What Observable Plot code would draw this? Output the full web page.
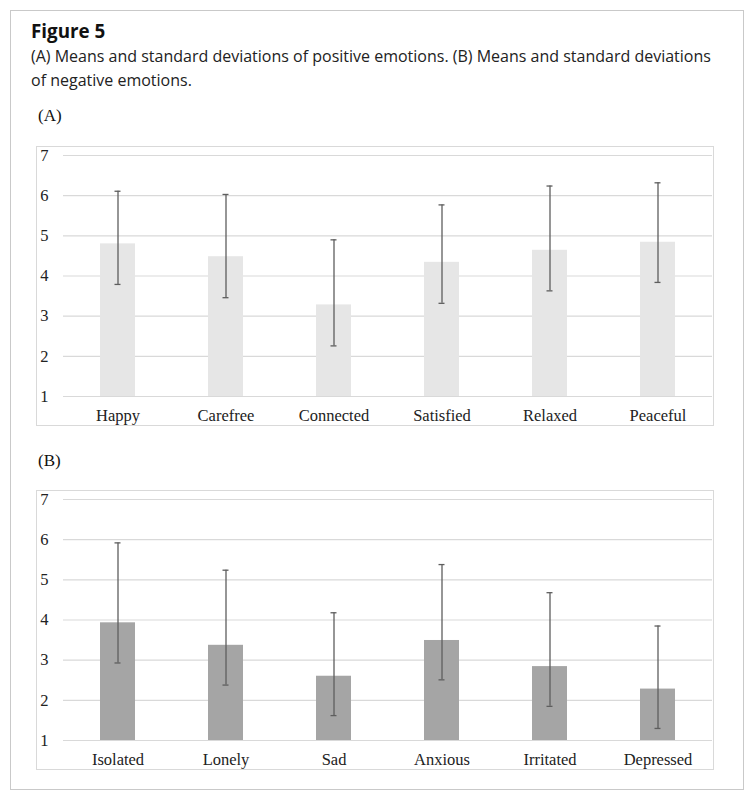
<!DOCTYPE html>
<html>
<head>
<meta charset="utf-8">
<script src="https://cdn.jsdelivr.net/npm/d3@7"></script>
<script src="https://cdn.jsdelivr.net/npm/@observablehq/plot@0.6"></script>
<style>
  html, body { margin: 0; padding: 0; background: #fff; }
  #page { position: relative; width: 754px; height: 800px; }
  #card { position: absolute; left: 10px; top: 10px; width: 734px; height: 780px; border: 1px solid #c9c9c9; box-sizing: border-box; }
  .title { position: absolute; left: 31px; top: 20px; font-family: "Open Sans", sans-serif; font-weight: 700; font-size: 18.8px; line-height: 22px; color: #111; }
  .sub { position: absolute; left: 31px; top: 44px; width: 690px; font-family: "Open Sans", sans-serif; font-size: 16px; line-height: 24px; color: #222; }
  .plab { position: absolute; left: 38px; font-family: "Liberation Serif", serif; font-size: 17px; line-height: 20px; color: #111; }
  .box { position: absolute; left: 36px; width: 678px; height: 280px; border: 1px solid #d9d9d9; box-sizing: border-box; }
  .box svg { display: block; }
</style>
</head>
<body>
<div id="page">
  <div id="card"></div>
  <div class="title">Figure 5</div>
  <div class="sub">(A) Means and standard deviations of positive emotions. (B) Means and standard deviations of negative emotions.</div>
  <div class="plab" style="top:106px">(A)</div>
  <div class="box" id="boxA" style="top:146px"></div>
  <div class="plab" style="top:451px">(B)</div>
  <div class="box" id="boxB" style="top:490px"></div>
</div>
<script>
// Panel A: positive emotions
const posNames = ["Happy", "Carefree", "Connected", "Satisfied", "Relaxed", "Peaceful"];
const posMean  = [4.80, 4.48, 3.28, 4.34, 4.64, 4.84];
const posLow   = [3.79, 3.46, 2.26, 3.32, 3.63, 3.84];
const posHigh  = [6.11, 6.03, 4.90, 5.77, 6.24, 6.32];

// Panel B: negative emotions
const negNames = ["Isolated", "Lonely", "Sad", "Anxious", "Irritated", "Depressed"];
const negMean  = [3.93, 3.37, 2.60, 3.49, 2.84, 2.28];
const negLow   = [2.93, 2.38, 1.62, 2.51, 1.85, 1.30];
const negHigh  = [5.92, 5.24, 4.18, 5.38, 4.68, 3.85];

const yTicks = [1, 2, 3, 4, 5, 6, 7];
const yMin = 1, yMax = 7;

function panel(names, mean, low, high, fill) {
  const data = names.map((n, i) => ({name: n, mean: mean[i], lo: low[i], hi: high[i]}));
  return Plot.plot({
    width: 676,
    height: 278,
    marginLeft: 26,
    marginRight: 1,
    marginTop: 8,
    marginBottom: 29,
    style: {fontFamily: "'Liberation Serif', serif", fontSize: "16.5px", color: "#222", background: "#fff"},
    x: {domain: names, paddingInner: 0.68, paddingOuter: 0.34, align: 0.5, label: null, tickSize: 0, tickPadding: 13},
    y: {domain: [yMin, yMax], ticks: yTicks, tickFormat: "d", label: null, tickSize: 0, tickPadding: 15},
    marks: [
      Plot.ruleY(yTicks, {stroke: "#d9d9d9", strokeWidth: 1.2}),
      Plot.barY(data, {x: "name", y1: () => yMin, y2: "mean", fill: fill}),
      Plot.ruleX(data, {x: "name", y1: "lo", y2: "hi", stroke: "#5e5e5e", strokeWidth: 1.3}),
      Plot.tickY(data, {x: "name", y: "hi", stroke: "#5e5e5e", strokeWidth: 1.3, insetLeft: 14.5, insetRight: 14.5}),
      Plot.tickY(data, {x: "name", y: "lo", stroke: "#5e5e5e", strokeWidth: 1.3, insetLeft: 14.5, insetRight: 14.5})
    ]
  });
}

document.getElementById("boxA").appendChild(panel(posNames, posMean, posLow, posHigh, "#e6e6e6"));
document.getElementById("boxB").appendChild(panel(negNames, negMean, negLow, negHigh, "#a5a5a5"));
</script>
</body>
</html>
